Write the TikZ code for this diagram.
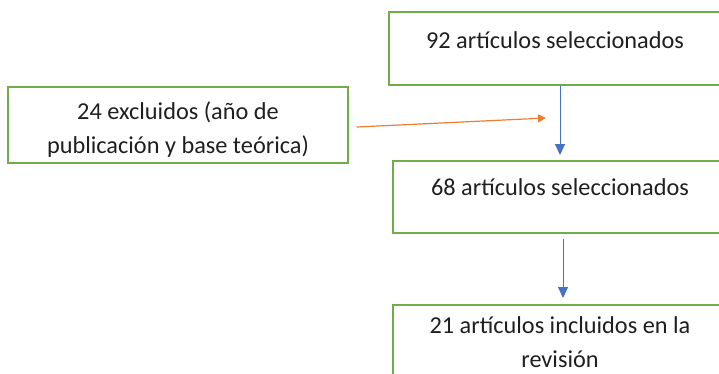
\documentclass[tikz,border=0pt]{standalone}
\usepackage{fontspec}
\setmainfont{Carlito}
\usetikzlibrary{arrows.meta}
\definecolor{boxgreen}{RGB}{112,173,71}
\definecolor{arrblue}{RGB}{68,114,196}
\definecolor{arrorange}{RGB}{237,125,49}
\begin{document}
\begin{tikzpicture}[x=1pt,y=-1pt,
  box/.style={draw=boxgreen, line width=1.4pt, rectangle, inner sep=0pt},
  lbl/.style={font=\fontsize{24.3}{34}\selectfont, align=center, text=black!88, inner sep=0pt},
  bluearr/.style={draw=arrblue, line width=1pt, -{Triangle[length=11pt,width=10pt]}},
  orarr/.style={draw=arrorange, line width=1.2pt, -{Triangle[length=8pt,width=8pt]}}]
\useasboundingbox (0,0) rectangle (719,373);
\clip (0,0) rectangle (719,373);
% boxes
\node[box, minimum width=334pt, minimum height=73pt] (b1) at (556,48.5) {};
\node[box, minimum width=340pt, minimum height=76pt] (b2) at (178,125) {};
\node[box, minimum width=334pt, minimum height=72pt] (b3) at (560,197) {};
\node[box, minimum width=334pt, minimum height=120pt] (b4) at (560,365) {};
% labels
\node[lbl] (t1) at (555,40) {92 artículos seleccionados};
\node[lbl] (t2) at (178,130) {24 excluidos (año de\\publicación y base teórica)};
\node[lbl] (t3) at (560,187) {68 artículos seleccionados};
\node[lbl] (t4) at (560,342) {21 artículos incluidos en la\\revisión};
% connectors
\coordinate (e1) at (560,155);
\coordinate (e2) at (563,298);
\coordinate (e3) at (546,118);
\draw[bluearr] (b1.south -| e1) -- (e1);
\draw[bluearr] ([yshift=-5pt]b3.south -| e2) -- (e2);
\draw[orarr] ([xshift=8pt,yshift=-2pt]b2.east) -- (e3);
\end{tikzpicture}
\end{document}
